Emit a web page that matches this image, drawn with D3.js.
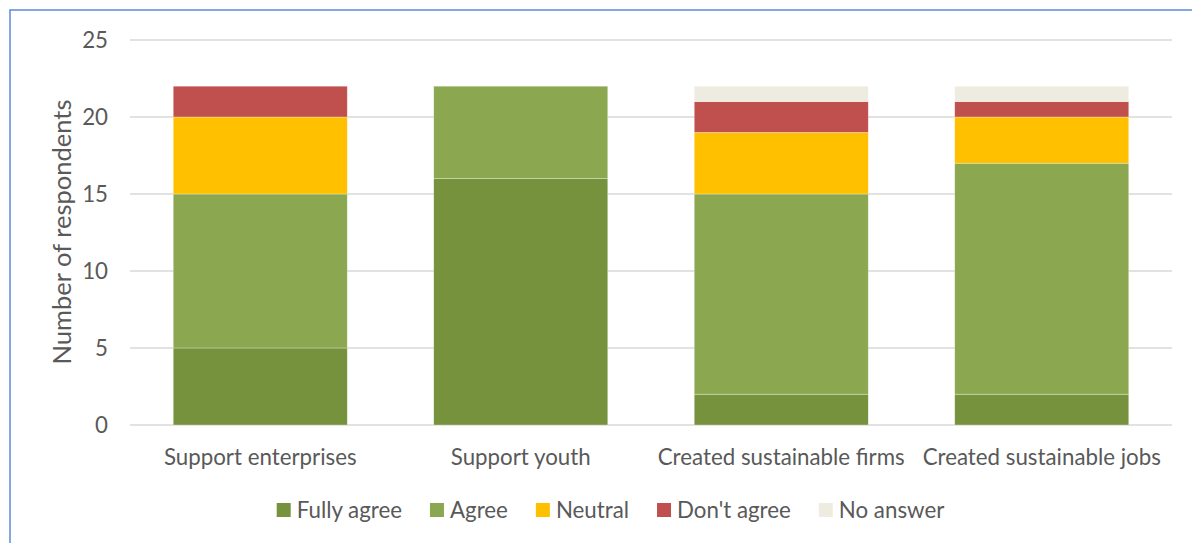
<!DOCTYPE html>
<html>
<head>
<meta charset="utf-8">
<script src="https://cdn.jsdelivr.net/npm/d3@7"></script>
<style>
  body { margin: 0; background: #fff; }
  svg text { font-family: Lato, "Open Sans", sans-serif; fill: #595959; }
</style>
</head>
<body>
<svg class="svg"></svg>
<script>
const categories = ["Support enterprises", "Support youth", "Created sustainable firms", "Created sustainable jobs"];
const seriesNames = ["Fully agree", "Agree", "Neutral", "Don't agree", "No answer"];
const fullyAgree = [5, 16, 2, 2];
const agree = [10, 6, 13, 15];
const neutral = [5, 0, 4, 3];
const dontAgree = [2, 0, 2, 1];
const noAnswer = [0, 0, 1, 1];
const yTicks = [0, 5, 10, 15, 20, 25];
const colors = ["#76923c", "#8ba851", "#ffc000", "#c0504d", "#eeece1"];

const width = 1192, height = 543;
const fontSize = 22.3;

const svg = d3.select(".svg").attr("width", width).attr("height", height);

// frame (only top and left edges show in the picture)
svg.append("rect")
  .attr("x", 10).attr("y", 10)
  .attr("width", 1300).attr("height", 700)
  .attr("fill", "none")
  .attr("stroke", "#5b8bd8")
  .attr("stroke-width", 1.5);

const rows = categories.map((c, i) => ({
  category: c,
  "Fully agree": fullyAgree[i],
  "Agree": agree[i],
  "Neutral": neutral[i],
  "Don't agree": dontAgree[i],
  "No answer": noAnswer[i]
}));

const stacked = d3.stack().keys(seriesNames)(rows);

const x = d3.scaleBand()
  .domain(categories)
  .range([130, 1172])
  .paddingInner(0.332)
  .paddingOuter(0.166);

const y = d3.scaleLinear().domain([0, 25]).range([425, 40]);

// gridlines
svg.append("g")
  .selectAll("line")
  .data(yTicks)
  .join("line")
  .attr("x1", 130).attr("x2", 1172)
  .attr("y1", d => y(d)).attr("y2", d => y(d))
  .attr("stroke", "#d9d9d9")
  .attr("stroke-width", 1.3);

// y tick labels
svg.append("g")
  .selectAll("text")
  .data(yTicks)
  .join("text")
  .attr("x", 108)
  .attr("y", d => y(d))
  .attr("dy", "0.35em")
  .attr("text-anchor", "end")
  .attr("font-size", fontSize)
  .text(d => d);

// bars
const layer = svg.append("g")
  .selectAll("g.layer")
  .data(stacked)
  .join("g")
  .attr("class", "layer")
  .attr("fill", (d, i) => colors[i]);

layer.selectAll("rect")
  .data(d => d.filter(s => s[1] - s[0] > 0))
  .join("rect")
  .attr("x", d => x(d.data.category))
  .attr("width", x.bandwidth())
  .attr("y", d => y(d[1]))
  .attr("height", d => y(d[0]) - y(d[1]))
  .attr("stroke", "rgba(255,255,255,0.5)")
  .attr("stroke-width", 0.6);

// category labels
svg.append("g")
  .selectAll("text")
  .data(categories)
  .join("text")
  .attr("x", d => x(d) + x.bandwidth() / 2)
  .attr("y", 465)
  .attr("text-anchor", "middle")
  .attr("font-size", fontSize)
  .text(d => d);

// y axis title
svg.append("text")
  .attr("transform", "translate(71, 232) rotate(-90)")
  .attr("text-anchor", "middle")
  .attr("font-size", 25.5)
  .text("Number of respondents");

// legend
const legend = svg.append("g");
let lx = 0;
seriesNames.forEach((name, i) => {
  const item = legend.append("g").attr("transform", `translate(${lx},0)`);
  item.append("rect")
    .attr("x", 0).attr("y", -7)
    .attr("width", 14).attr("height", 14)
    .attr("fill", colors[i]);
  const t = item.append("text")
    .attr("x", 20).attr("y", 0)
    .attr("dy", "0.35em")
    .attr("font-size", fontSize)
    .text(name);
  lx += 20 + t.node().getComputedTextLength() + 28;
});
const legendWidth = lx - 28;
legend.attr("transform", `translate(${(280 + 941) / 2 - legendWidth / 2}, 510)`);
</script>
</body>
</html>
